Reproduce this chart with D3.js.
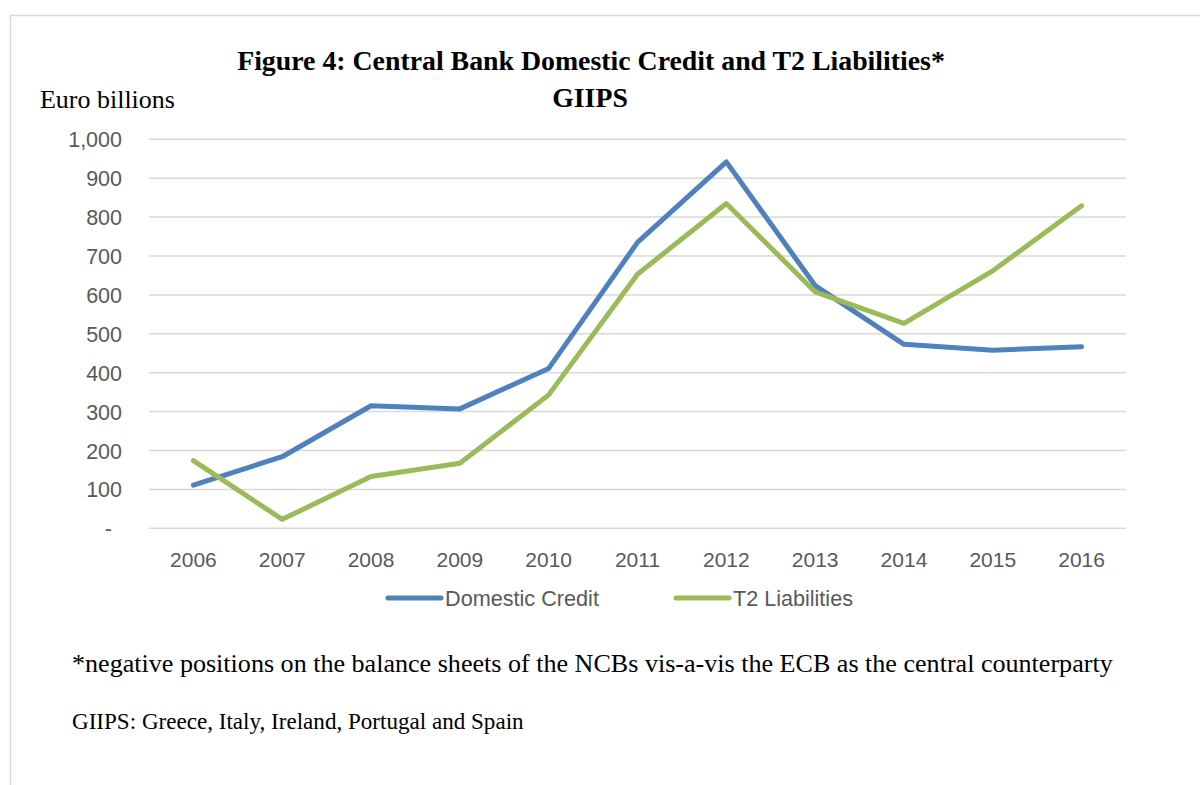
<!DOCTYPE html>
<html><head><meta charset="utf-8">
<script src="https://cdn.jsdelivr.net/npm/d3@7"></script>
<style>
html,body{margin:0;padding:0;background:#fff;}
svg{display:block;}
</style></head>
<body>
<svg id="chart" width="1200" height="785"></svg>
<script>
const years = ["2006","2007","2008","2009","2010","2011","2012","2013","2014","2015","2016"];
const domesticCredit = [111, 184, 315, 307, 411, 735, 942, 624, 473, 458, 467];
const t2Liabilities = [174, 23, 133, 167, 343, 653, 835, 608, 527, 662, 829];
const yTicks = [0, 100, 200, 300, 400, 500, 600, 700, 800, 900, 1000];
const seriesNames = ["Domestic Credit", "T2 Liabilities"];
const seriesColors = ["#4F81BD", "#9BBB59"];

const svg = d3.select("#chart");
const serif = "'Liberation Serif', 'DejaVu Serif', serif";
const sans = "'Liberation Sans', Arial, sans-serif";

function fitText(sel, width) {
  const w = sel.node().getComputedTextLength();
  const fs = parseFloat(sel.attr("font-size"));
  sel.attr("font-size", fs * width / w);
}

// frame
svg.append("path").attr("d","M10.5,785 L10.5,15.5 L1200,15.5")
  .attr("fill","none").attr("stroke","#d9d9d9").attr("stroke-width",1.5);

const x = d3.scaleBand().domain(years).range([149, 1126]);
const y = d3.scaleLinear().domain([0, 1000]).range([528.3, 139.3]);

// gridlines
svg.append("g").selectAll("line").data(yTicks).join("line")
  .attr("x1", 149).attr("x2", 1126)
  .attr("y1", d => y(d)).attr("y2", d => y(d))
  .attr("stroke", "#d9d9d9").attr("stroke-width", 1.5);

// y axis
const yAxis = d3.axisLeft(y).tickValues(yTicks).tickSize(0).tickPadding(0)
  .tickFormat(d => d === 0 ? "-" : d3.format(",")(d));
const gy = svg.append("g").attr("transform","translate(122,0)").call(yAxis);
gy.select(".domain").remove();
gy.selectAll("text").attr("font-family", sans).attr("font-size", 21.5).attr("fill","#595959")
  .attr("dy","0.35em")
  .attr("dx", d => d === 0 ? -10 : 0);

// x axis
const xAxis = d3.axisBottom(x).tickSize(0).tickPadding(0);
const gx = svg.append("g").attr("transform","translate(0,567)").call(xAxis);
gx.select(".domain").remove();
gx.selectAll("text").attr("font-family", sans).attr("font-size", 21).attr("fill","#595959").attr("dy", 0);

// lines
const line = d3.line().x((d,i) => x(years[i]) + x.bandwidth()/2).y(d => y(d));
[domesticCredit, t2Liabilities].forEach((s, k) => {
  svg.append("path").datum(s).attr("d", line)
    .attr("fill","none").attr("stroke", seriesColors[k]).attr("stroke-width", 5)
    .attr("stroke-linejoin","round").attr("stroke-linecap","round");
});

// legend
const legendX = [388, 676];
const legendW = [154, 120];
seriesNames.forEach((n, k) => {
  const g = svg.append("g").attr("transform", `translate(${legendX[k]},598)`);
  g.append("line").attr("x1",0).attr("x2",53).attr("y1",0).attr("y2",0)
    .attr("stroke", seriesColors[k]).attr("stroke-width",5).attr("stroke-linecap","round");
  const t = g.append("text").attr("x",57).attr("y",7.5).text(n)
    .attr("font-family", sans).attr("font-size", 21).attr("fill","#595959");
  fitText(t, legendW[k]);
});

// titles
const t1 = svg.append("text").attr("x", 591).attr("y", 70).attr("text-anchor","middle")
  .attr("font-family", serif).attr("font-weight","bold").attr("font-size", 24).attr("fill","#000")
  .text("Figure 4: Central Bank Domestic Credit and T2 Liabilities*");
fitText(t1, 708);
svg.append("text").attr("x", 590).attr("y", 107).attr("text-anchor","middle")
  .attr("font-family", serif).attr("font-weight","bold").attr("font-size", t1.attr("font-size")).attr("fill","#000")
  .text("GIIPS");

const ylab = svg.append("text").attr("x", 40).attr("y", 108)
  .attr("font-family", serif).attr("font-size", 21).attr("fill","#000").text("Euro billions");
fitText(ylab, 135);

const f1 = svg.append("text").attr("x", 72).attr("y", 672)
  .attr("font-family", serif).attr("font-size", 22).attr("fill","#000")
  .text("*negative positions on the balance sheets of the NCBs vis-a-vis the ECB as the central counterparty");
fitText(f1, 1041);
const f2 = svg.append("text").attr("x", 72).attr("y", 729)
  .attr("font-family", serif).attr("font-size", 18).attr("fill","#000")
  .text("GIIPS: Greece, Italy, Ireland, Portugal and Spain");
fitText(f2, 452);
</script>
</body></html>
